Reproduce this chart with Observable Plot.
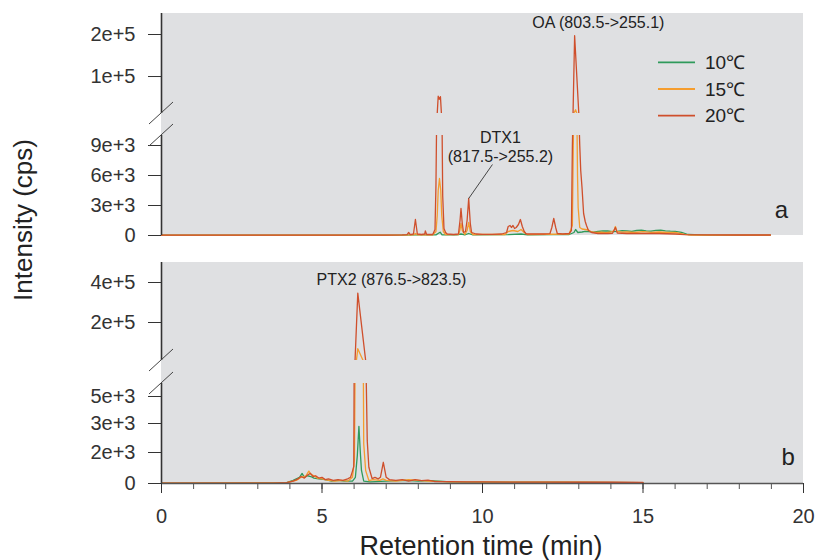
<!DOCTYPE html>
<html><head><meta charset="utf-8">
<script src="https://cdn.jsdelivr.net/npm/d3@7"></script>
<script src="https://cdn.jsdelivr.net/npm/@observablehq/plot@0.6"></script>
<style>
body{margin:0;background:#fff;}
#wrap{position:relative;width:815px;height:560px;}
#wrap svg{position:absolute;left:0;top:0;}
</style></head><body><div id="wrap"></div>
<script>
// ---------- data ----------
const series = ["10℃", "15℃", "20℃"];
const colors = ["#2f9a5b", "#f59d2e", "#cf4f2c"];

// panel a : [time (min), intensity (cps)]
const a10 = [[0,30],[3,30],[6,30],[7.5,40],[8.0,60],[8.55,60],[8.64,250],[8.68,330],[8.74,60],[9.2,60],[9.33,150],[9.45,60],[9.57,200],[9.7,60],[10.8,80],[11.2,150],[11.4,60],[12.2,80],[12.7,100],[12.85,300],[12.9,600],[12.97,300],[13.1,350],[13.2,420],[13.3,380],[13.45,330],[13.6,400],[13.75,470],[13.9,450],[14.05,380],[14.2,420],[14.35,480],[14.5,460],[14.65,420],[14.8,500],[14.95,530],[15.1,460],[15.25,430],[15.4,520],[15.55,540],[15.7,460],[15.85,430],[16.0,420],[16.2,320],[16.4,100],[17,40],[18.97,40]];
const a15 = [[0,30],[7,30],[7.85,60],[7.91,200],[7.97,60],[8.45,60],[8.55,400],[8.59,2000],[8.62,4500],[8.66,5700],[8.7,4500],[8.73,2000],[8.78,400],[8.85,100],[9.25,80],[9.3,600],[9.33,1200],[9.37,500],[9.45,100],[9.52,500],[9.57,1300],[9.62,400],[9.7,100],[10.7,100],[10.8,400],[10.95,500],[11.1,400],[11.2,600],[11.3,300],[11.4,100],[12.7,150],[12.8,1000],[12.84,12000],[12.9,21000],[12.94,12000],[12.96,6000],[12.98,2800],[13.03,800],[13.1,650],[13.2,600],[13.3,550],[13.4,350],[13.55,300],[13.7,330],[13.85,280],[14.0,350],[14.1,500],[14.14,900],[14.19,400],[14.35,330],[14.5,350],[14.75,300],[15,380],[15.25,320],[15.5,350],[15.75,300],[16,300],[16.3,120],[16.5,40],[18.97,40]];
const a20 = [[0,30],[2,30],[4,30],[6,40],[7,40],[7.5,60],[7.65,80],[7.7,300],[7.75,80],[7.85,150],[7.91,1600],[7.97,150],[8.1,100],[8.2,150],[8.22,450],[8.26,100],[8.45,100],[8.52,600],[8.55,5000],[8.57,11000],[8.62,53000],[8.655,46000],[8.69,52000],[8.74,11000],[8.76,4000],[8.8,700],[8.85,300],[8.9,150],[9.1,100],[9.25,150],[9.3,1500],[9.33,2700],[9.37,1200],[9.41,300],[9.47,400],[9.52,1500],[9.57,3700],[9.62,1200],[9.66,300],[9.8,150],[10.0,120],[10.3,120],[10.6,150],[10.75,300],[10.8,900],[10.86,1000],[10.9,800],[10.95,1000],[11.0,700],[11.05,800],[11.12,1100],[11.18,1600],[11.24,900],[11.3,400],[11.36,150],[11.6,150],[11.9,150],[12.1,180],[12.16,800],[12.22,1700],[12.28,800],[12.33,200],[12.5,150],[12.7,200],[12.77,500],[12.8,9000],[12.87,197000],[13.0,12000],[13.03,9000],[13.06,6500],[13.1,4800],[13.15,2200],[13.2,1400],[13.24,1000],[13.3,500],[13.4,300],[13.6,200],[13.9,200],[14.05,220],[14.14,800],[14.2,250],[14.5,200],[15,220],[15.5,200],[16,150],[16.3,90],[17,60],[18,50],[18.97,50]];

// panel b
const b10 = [[0,30],[3.9,50],[4.1,200],[4.3,400],[4.38,650],[4.45,400],[4.55,500],[4.65,450],[4.75,350],[4.9,300],[5.1,250],[5.3,150],[5.5,200],[5.7,150],[5.95,150],[6.04,400],[6.1,1800],[6.15,2900],[6.2,1800],[6.23,840],[6.3,150],[6.5,100],[7,150],[7.6,200],[8,150],[8.4,180],[9,100],[10,90],[12,80],[15,60]];
const b15 = [[0,30],[3.9,50],[4.2,200],[4.35,400],[4.5,500],[4.59,800],[4.65,600],[4.75,500],[4.85,350],[5.0,300],[5.2,200],[5.4,150],[5.6,200],[5.8,150],[5.95,400],[6.01,1500],[6.03,8000],[6.115,69000],[6.28,10000],[6.29,6000],[6.3,2300],[6.36,840],[6.46,190],[6.6,250],[6.8,200],[6.9,300],[7.0,200],[7.3,150],[7.7,250],[8.0,200],[8.3,150],[9,100],[11,90],[13,80],[15,60]];
const b20 = [[0,30],[3.5,30],[3.9,60],[4.1,150],[4.25,300],[4.35,450],[4.45,350],[4.55,550],[4.64,650],[4.72,450],[4.8,500],[4.9,350],[5.0,400],[5.1,250],[5.2,300],[5.35,200],[5.5,250],[5.65,200],[5.8,300],[5.89,400],[5.95,800],[5.99,1100],[6.0,6000],[6.115,347000],[6.36,10000],[6.38,6000],[6.41,2400],[6.46,1050],[6.56,320],[6.65,400],[6.75,300],[6.82,400],[6.91,1370],[7.0,400],[7.1,250],[7.3,200],[7.5,250],[7.7,150],[7.9,250],[8.1,180],[8.3,220],[8.5,130],[9,120],[9.5,100],[10,110],[11,90],[12,90],[13,80],[14,80],[15,70]];

const xTicksMajor = [0, 5, 10, 15, 20];
const xTicksMinor = [0,1,2,3,4,5,6,7,8,9,10,11,12,13,14,15,16,17,18,19,20];
const yTicksA = [0, 3000, 6000, 9000, 100000, 200000];
const yTicksB = [0, 2000, 3000, 5000, 200000, 400000];

// broken-axis segments (value ranges)
const segA = [{y1: 0, y2: 10000}, {y1: 12000, y2: 250000}];
const segB = [{y1: 0, y2: 6000}, {y1: 10000, y2: 500000}];
const gapA = [{y1: 10000, y2: 12000}];
const gapB = [{y1: 6000, y2: 10000}];

const annotA = [{label: "OA (803.5->255.1)", t: 13.61, v: 230800}, {label: "DTX1\n(817.5->255.2)", t: 10.56, v: 8920}];
const leaderA = [{t1: 10.31, v1: 7100, t2: 9.57, v2: 3700}];
const annotB = [{label: "PTX2 (876.5->823.5)", t: 7.165, v: 413500}];
const panelA = [{label: "a", t: 19.31, v: 2500}];
const panelB = [{label: "b", t: 19.52, v: 1710}];

// ---------- layout ----------
const W = 815, H = 560;
const FONT = '"Liberation Sans", Arial, Helvetica, sans-serif';
const BG = "#dfe0e2", INK = "#222", AX = "#333";
const yDomainA = [0, 10000, 12000, 250000], yRangeA = [235, 135, 113, 13];
const yDomainB = [0, 2000, 3000, 5000, 6000, 10000, 500000], yRangeB = [483, 452, 423, 396, 383, 360, 262];

const rows = (list, s) => list.map(([t, v]) => ({t, v, s}));
const dataA = [...rows(a10, series[0]), ...rows(a15, series[1]), ...rows(a20, series[2])];
const dataB = [...rows(b10, series[0]), ...rows(b15, series[1]), ...rows(b20, series[2])];
const fmt = d => d === 0 ? "0" : d3.format(".0e")(d);

const common = {
  width: W, height: H, marginLeft: 161, marginRight: 12,
  style: {fontFamily: FONT, color: INK, background: "transparent", overflow: "visible"},
  x: {domain: [0, 20], axis: null},
  color: {domain: series, range: colors}
};

const plotA = Plot.plot({
  ...common, marginTop: 13, marginBottom: H - 235,
  y: {type: "linear", domain: yDomainA, range: yRangeA},
  marks: [
    Plot.rect([{}], {x1: 0, x2: 20, y1: 0, y2: 250000, fill: BG}),
    Plot.line(dataA, {x: "t", y: "v", z: "s", stroke: "s", strokeWidth: 1.3}),
    Plot.rect(gapA, {x1: 0, x2: 20, y1: "y1", y2: "y2", fill: BG}),
    Plot.ruleX(segA, {x: 0, y1: "y1", y2: "y2", stroke: AX, strokeWidth: 1.6}),
    Plot.axisY({ticks: yTicksA, tickFormat: fmt, tickSize: 13, tickPadding: 13, fontSize: 20, color: AX, label: null}),
    Plot.link(leaderA, {x1: "t1", y1: "v1", x2: "t2", y2: "v2", stroke: "#333", strokeWidth: 0.9}),
    Plot.text(annotA, {x: "t", y: "v", text: "label", fontSize: 16, lineHeight: 1.19, fill: INK}),
    Plot.text(panelA, {x: "t", y: "v", text: "label", fontSize: 24, fill: INK})
  ]
});

const plotB = Plot.plot({
  ...common, marginTop: 262, marginBottom: H - 483,
  y: {type: "linear", domain: yDomainB, range: yRangeB},
  marks: [
    Plot.rect([{}], {x1: 0, x2: 20, y1: 0, y2: 500000, fill: BG}),
    Plot.line(dataB, {x: "t", y: "v", z: "s", stroke: "s", strokeWidth: 1.3}),
    Plot.rect(gapB, {x1: 0, x2: 20, y1: "y1", y2: "y2", fill: BG}),
    Plot.ruleX(segB, {x: 0, y1: "y1", y2: "y2", stroke: AX, strokeWidth: 1.6}),
    Plot.ruleY([0], {stroke: "#555", strokeWidth: 1.6}),
    Plot.axisY({ticks: yTicksB, tickFormat: fmt, tickSize: 13, tickPadding: 13, fontSize: 20, color: AX, label: null}),
    Plot.axisX({ticks: xTicksMinor, tickSize: 6, tickFormat: () => "", color: "#555", label: null}),
    Plot.axisX({ticks: xTicksMajor, tickSize: 10, tickPadding: 15, fontSize: 20, color: AX, label: null}),
    Plot.text(annotB, {x: "t", y: "v", text: "label", fontSize: 16, fill: INK}),
    Plot.text(panelB, {x: "t", y: "v", text: "label", fontSize: 24, fill: INK})
  ]
});

const wrap = document.getElementById("wrap");
wrap.appendChild(plotA);
wrap.appendChild(plotB);

// axis-break slashes
function slashes(plot, values) {
  const sx = plot.scale("x"), sy = plot.scale("y");
  const x0 = sx.apply(0);
  const g = d3.select(plot).append("g").attr("stroke", "#444").attr("stroke-width", 1);
  values.forEach(v => {
    const yc = sy.apply(v);
    g.append("line").attr("x1", x0 - 12).attr("y1", yc + 11).attr("x2", x0 + 12).attr("y2", yc - 11);
  });
}
slashes(plotA, [10000, 12000]);
slashes(plotB, [6000, 10000]);

// legend
const lg = d3.select(plotA).append("g").attr("font-family", FONT).attr("font-size", 19)
  .attr("fill", INK).attr("text-anchor", "start");
series.forEach((s, i) => {
  const y = 62.3 + i * 26.7;
  lg.append("line").attr("x1", 658).attr("x2", 695).attr("y1", y).attr("y2", y)
    .attr("stroke", colors[i]).attr("stroke-width", 1.8);
  lg.append("text").attr("x", 705).attr("y", y).attr("dy", "0.35em").text(s);
});

// axis titles
const t = d3.select(plotB).append("g").attr("font-family", FONT).attr("fill", INK).attr("text-anchor", "middle");
t.append("text").attr("x", 481).attr("y", 555).attr("font-size", 27).text("Retention time (min)");
t.append("text").attr("transform", "translate(32,220) rotate(-90)").attr("font-size", 26).text("Intensity (cps)");
</script></body></html>
